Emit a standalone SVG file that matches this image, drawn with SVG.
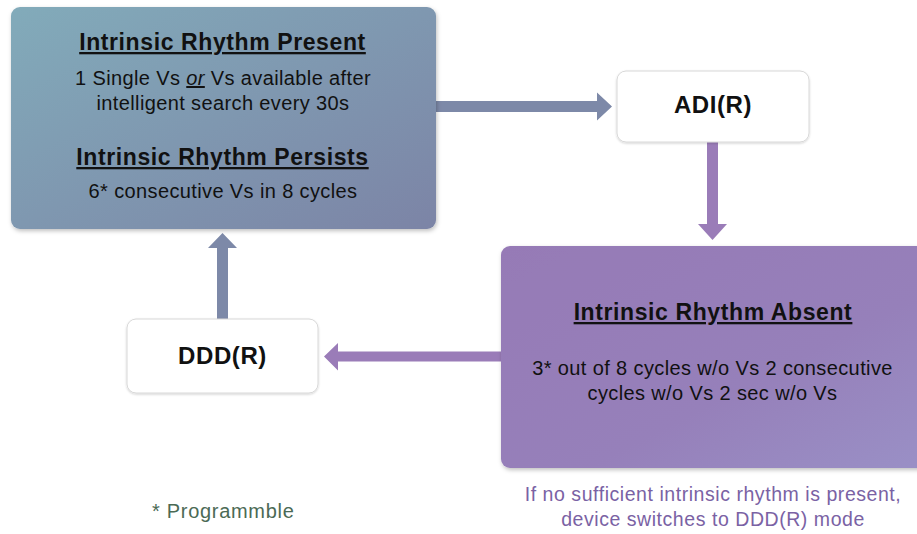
<svg xmlns="http://www.w3.org/2000/svg" width="917" height="534" viewBox="0 0 917 534">
<defs>
<linearGradient id="gBlue" x1="0" y1="0" x2="1" y2="1">
<stop offset="0" stop-color="#82abba"/>
<stop offset="1" stop-color="#7c84a6"/>
</linearGradient>
<linearGradient id="gPurple" x1="0" y1="0" x2="1" y2="1">
<stop offset="0" stop-color="#967ab6"/>
<stop offset="0.6" stop-color="#9680ba"/>
<stop offset="1" stop-color="#9a90c6"/>
</linearGradient>
<filter id="sh" x="-10%" y="-10%" width="120%" height="125%">
<feDropShadow dx="1" dy="2" stdDeviation="2" flood-color="#000" flood-opacity="0.25"/>
</filter>
<filter id="sh2" x="-10%" y="-10%" width="120%" height="130%">
<feDropShadow dx="0" dy="1" stdDeviation="1.2" flood-color="#000" flood-opacity="0.18"/>
</filter>
</defs>
<style>
text{font-family:"Liberation Sans",Arial,sans-serif;text-anchor:middle;fill:#111}
.t{font-weight:bold;font-size:23px;letter-spacing:0.6px;text-decoration:underline}
.b{font-size:20px;letter-spacing:0.38px}
.m{font-weight:bold;font-size:24px;letter-spacing:0.6px}
.cap{font-size:19.5px;letter-spacing:0.55px;fill:#7a62a4}
.note{font-size:20px;letter-spacing:0.7px;fill:#4b6a55;text-anchor:start}
.wbox{fill:#fff;stroke:#d8d8d8;stroke-width:1}
</style>
<rect width="917" height="534" fill="#fff"/>
<g id="connectors">
<path d="M436,101 H597 V92.5 L612,106.5 L597,120.5 V112 H436 Z" fill="#7d89a8"/>
<path d="M707,142 H718 V224 H727 L712.5,240 L698,224 H707 Z" fill="#9a7cb8"/>
<path d="M501,351.5 H338 V343 L324,356.5 L338,370.5 V361.5 H501 Z" fill="#9a7cb8"/>
<path d="M217,319 V248 H208 L222.5,233 L237,248 H228 V319 Z" fill="#7d89a8"/>
</g>
<g id="present">
<rect x="11" y="7" width="425" height="222" rx="9" fill="url(#gBlue)" filter="url(#sh)"/>
<text class="t" x="222.5" y="50">Intrinsic Rhythm Present</text>
<text class="b" x="223" y="85">1 Single Vs <tspan font-style="italic" text-decoration="underline">or</tspan> Vs available after</text>
<text class="b" x="223" y="110">intelligent search every 30s</text>
<text class="t" x="222.5" y="165">Intrinsic Rhythm Persists</text>
<text class="b" x="223" y="198">6* consecutive Vs in 8 cycles</text>
</g>
<g id="adi">
<rect class="wbox" x="617" y="71" width="192" height="71" rx="9" filter="url(#sh2)"/>
<text class="m" x="713" y="113">ADI(R)</text>
</g>
<g id="absent">
<rect x="501" y="246" width="430" height="222" rx="9" fill="url(#gPurple)" filter="url(#sh)"/>
<text class="t" x="713" y="320">Intrinsic Rhythm Absent</text>
<text class="b" x="712.5" y="375">3* out of 8 cycles w/o Vs 2 consecutive</text>
<text class="b" x="712.5" y="400">cycles w/o Vs 2 sec w/o Vs</text>
</g>
<g id="ddd">
<rect class="wbox" x="127" y="319" width="191" height="74" rx="9" filter="url(#sh2)"/>
<text class="m" x="222.5" y="364">DDD(R)</text>
</g>
<g id="caption">
<text class="cap" x="713" y="501">If no sufficient intrinsic rhythm is present,</text>
<text class="cap" x="713" y="526">device switches to DDD(R) mode</text>
</g>
<g id="note">
<text class="note" x="152" y="518">* Programmble</text>
</g>
</svg>
